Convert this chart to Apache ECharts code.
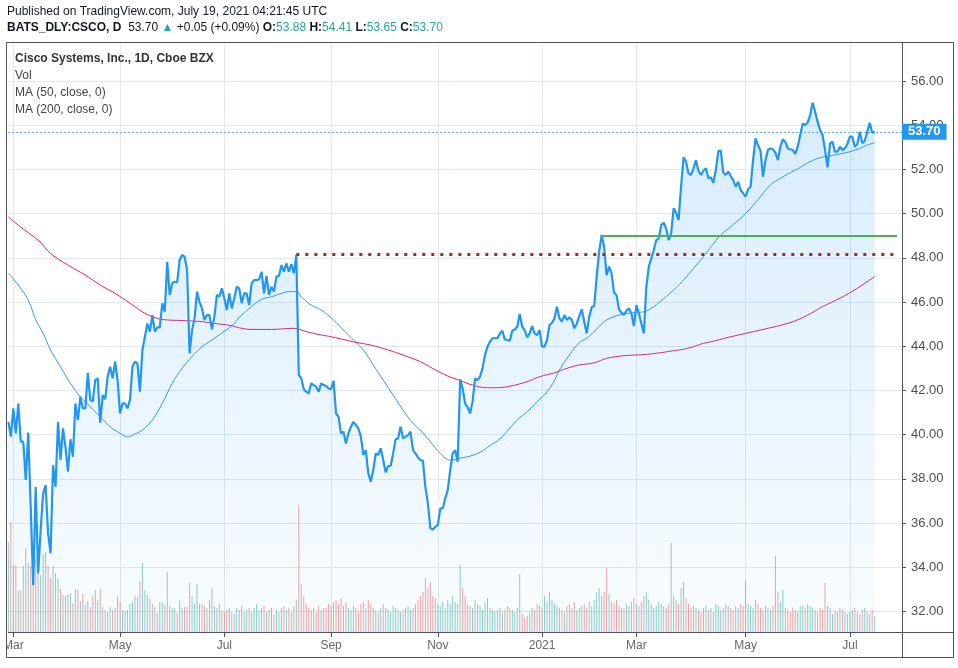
<!DOCTYPE html>
<html><head><meta charset="utf-8">
<script src="https://cdn.jsdelivr.net/npm/echarts@6/dist/echarts.min.js"></script>
<style>html,body{margin:0;padding:0;background:#fff}#c{width:958px;height:668px}</style>
</head><body><div id="c"></div>
<script>
// ---------- DATA ----------
const startDate = '2020-02-27';
const holidays = ['2020-04-10','2020-05-25','2020-07-03','2020-09-07','2020-11-26','2020-12-25',
  '2021-01-01','2021-01-18','2021-02-15','2021-04-02','2021-05-31','2021-07-05'];
const totalSlots = 361; // trading days incl. empty space on the right

const closes = [
 40.58,39.91,41.19,40.06,41.41,39.68,39.68,37.95,40.09,36.74,
 33.19,37.64,33.72,35.68,37.34,37.72,35.53,34.63,38.62,37.64,
 40.58,38.85,40.28,39.46,38.32,39.79,39.00,41.41,40.66,41.72,
 41.19,41.19,42.80,41.57,41.49,42.47,42.55,40.54,41.79,41.61,
 42.62,43.07,42.55,43.30,42.47,40.96,41.41,41.41,41.19,41.57,
 43.07,43.30,43.22,41.94,43.83,44.43,45.03,44.66,45.41,44.66,
 44.85,44.85,45.94,45.56,47.82,46.32,46.84,46.92,46.89,47.90,
 48.13,48.05,47.45,43.68,44.73,45.26,46.47,46.01,45.71,45.19,
 45.41,45.41,44.76,45.34,46.32,46.24,46.62,46.17,45.64,46.39,
 45.71,46.17,46.69,46.62,45.94,46.39,46.39,45.86,46.84,46.99,
 46.99,47.02,47.37,46.39,47.18,46.32,46.69,46.47,47.15,47.18,
 47.67,47.37,47.75,47.37,47.72,47.30,48.13,42.70,42.55,42.05,
 41.94,41.87,42.32,42.24,42.17,41.94,42.32,42.24,42.20,42.09,
 42.05,42.44,40.96,40.81,40.06,40.13,39.60,40.06,40.36,40.58,
 40.43,40.28,39.91,39.08,39.30,38.25,37.87,38.40,39.15,39.08,
 39.38,38.85,38.29,38.58,38.58,39.15,39.79,39.83,40.36,39.83,
 39.91,39.98,40.13,39.30,39.15,38.97,38.85,38.82,37.64,36.89,
 35.76,35.71,35.83,35.91,36.66,36.66,37.12,37.49,38.40,39.15,
 39.30,38.77,42.50,42.10,41.40,41.24,40.96,41.49,42.55,42.47,
 42.62,43.00,43.60,43.98,44.20,44.36,44.36,44.36,44.58,44.70,
 44.31,44.28,44.25,44.70,44.76,44.88,45.46,44.88,44.73,44.40,
 44.58,44.91,44.58,44.51,44.73,43.98,43.98,44.28,44.96,45.06,
 45.26,45.79,45.26,45.11,45.41,45.19,45.31,45.19,44.81,45.03,
 45.37,45.67,45.11,44.58,45.34,45.76,45.82,47.15,48.28,49.03,
 48.50,47.22,47.60,47.30,46.42,46.32,45.67,45.52,45.41,45.61,
 45.71,45.49,44.91,45.86,45.49,45.03,44.58,46.69,47.60,47.98,
 48.35,48.80,48.88,49.48,49.59,49.33,48.80,49.10,50.24,50.04,
 49.71,51.22,52.55,52.35,51.82,51.75,52.05,52.42,51.94,51.75,
 51.94,52.05,51.60,51.64,51.40,51.97,52.83,52.85,51.85,51.75,
 51.90,51.70,51.52,51.22,51.44,51.07,50.92,50.77,51.10,51.22,
 52.42,53.41,53.10,52.85,51.67,52.42,52.88,52.95,52.91,52.76,
 52.42,53.03,53.36,53.25,52.95,52.91,52.88,52.70,53.03,53.56,
 54.08,54.01,54.12,54.46,55.02,54.61,54.16,53.78,53.56,52.88,
 52.09,53.18,53.25,52.80,52.80,53.03,52.88,52.95,53.15,53.48,
 53.48,53.03,53.15,53.71,53.18,53.30,53.71,54.11,53.66,53.70
];

const volumes = [
 45,55,33.5,33.5,20.5,20.5,33,42,34.5,33,
 36,37,31,28.5,39,40,33,27,33,29.5,
 26.5,21.5,18.5,18,18.5,19.5,14.5,21.5,21,15.5,
 19,13.5,15.5,12.5,18,21,16,21.5,12.5,11,
 10,12.5,11,12,18,15,11,10.5,11,14,
 15,18,17.5,25.5,34.5,21,18.5,16.5,14,12.5,
 9.5,15,15,13.5,30,13,12,12,9.5,15.5,
 12,12.5,12.5,24.5,18,14.5,24,14,14,13,
 12,16,22,13,12,14,11,10,11,12,
 10,9,12,11,13,10,11,12,10,12,
 14,11,12,13,10,11,12,9,11,10,
 12,13,11,12,10,13,16,63.5,24,18,
 14,12,11,12,10,13,11,12,12,14,
 13,15,16,14,17,13,15,12,11,13,
 12,10,14,15,12,16,14,12,11,10,
 12,14,12,11,10,13,12,11,10,11,
 12,13,11,12,14,16,18,20,27,22,
 25,18,17,14,13,15,12,16,14,18,
 15,14,33.5,22,18,14,13,12,16,14,
 13,11,15,17,12,11,10,11,12,10,
 11,13,12,11,10,12,29,9,7,8,
 10,12,11,14,13,12,18,15,20,16,
 14,13,12,11,10,13,14,12,15,11,
 12,13,14,12,15,13,16,20,22,18,
 20,32,19,15,14,16,13,12,12,14,
 13,15,17,14,13,15,18,20,16,14,
 12,13,15,14,13,12,14,44.5,18,16,
 14,22,25,17,14,12,13,12,11,10,
 12,13,11,12,10,14,13,11,12,14,
 13,12,11,13,12,14,13,26,14,13,
 12,16,14,12,11,13,12,11,13,38,
 20,15,21,12,11,10,12,11,10,13,
 13,12,14,13,12,11,10,12,11,24.5,
 13,12,9,11,10,12,11,10,9,10,
 11,12,10,9,11,12,10,9,11,8
];

const ma50Idx = [0,4,8,11,14,17,21,25,29,33,37,41,45,48,51,54,58,62,66,70,74,78,82,86,90,94,98,102,106,110,113,116,118,122,126,131,135,139,143,147,151,155,159,163,166,170,174,178,182,186,190,194,198,202,205,209,213,217,220,222,226,230,233,236,240,244,248,252,256,260,264,268,272,276,280,283,287,291,295,299,303,307,311,315,319,323,327,331,335,339,343,346,349];
const ma50Val = [47.30,46.77,46.09,45.20,44.58,43.83,43.07,42.32,41.72,41.26,40.81,40.36,40.06,39.90,40.03,40.21,40.66,41.41,42.32,43.00,43.53,43.98,44.28,44.60,44.93,45.41,45.79,46.12,46.24,46.39,46.47,46.47,46.24,45.86,45.64,45.19,44.73,44.28,43.83,43.15,42.47,41.79,41.11,40.51,40.21,39.68,39.15,38.85,38.93,39.03,39.20,39.50,39.80,40.30,40.66,41.04,41.49,41.94,42.45,42.92,43.60,44.16,44.36,44.66,45.11,45.34,45.46,45.52,45.56,45.79,46.16,46.54,46.99,47.52,48.05,48.50,49.03,49.41,49.79,50.24,50.77,51.30,51.60,51.85,52.09,52.35,52.53,52.61,52.70,52.80,52.95,53.10,53.21];

const ma200Idx = [0,6,12,17,24,31,37,44,51,55,60,64,71,78,83,89,94,98,106,115,120,126,130,139,146,153,159,166,171,177,182,187,193,198,204,209,214,220,225,230,236,241,247,252,257,263,268,272,276,280,283,290,297,304,315,322,328,335,342,349];
const ma200Val = [49.85,49.30,48.80,48.20,47.67,47.22,46.77,46.32,45.79,45.49,45.26,45.19,45.16,45.11,45.03,44.95,44.81,44.76,44.76,44.81,44.66,44.51,44.43,44.20,44.05,43.83,43.60,43.30,42.99,42.65,42.45,42.24,42.12,42.13,42.24,42.40,42.62,42.80,43.00,43.15,43.25,43.45,43.56,43.60,43.63,43.71,43.80,43.86,43.98,44.13,44.20,44.40,44.58,44.76,45.07,45.41,45.79,46.17,46.62,47.15];

const yTicks = [32,34,36,38,40,42,44,46,48,50,52,54,56];
const tickDates = ['2020-03-02','2020-05-01','2020-07-01','2020-09-01','2020-11-02','2021-01-04','2021-03-01','2021-05-03','2021-07-01'];
const tickLabels = ['Mar','May','Jul','Sep','Nov','2021','Mar','May','Jul'];

const lastPrice = 53.70;
const resistanceLevel = 48.16, resistanceStart = '2020-08-12';
const breakoutLevel = 49.0, breakoutStart = '2021-02-08';
const drawingsEnd = '2021-07-29';

// ---------- BUILD ----------
function fmt(d){return d.toISOString().slice(0,10);}
const dates = [];
(function(){
  const d = new Date(startDate + 'T00:00:00Z');
  while (dates.length < totalSlots) {
    const wd = d.getUTCDay(); const s = fmt(d);
    if (wd !== 0 && wd !== 6 && holidays.indexOf(s) < 0) dates.push(s);
    d.setUTCDate(d.getUTCDate() + 1);
  }
})();
const tickMap = {}; tickDates.forEach((t,k)=>{ tickMap[t] = tickLabels[k]; });
const isTick = (idx, val) => tickMap.hasOwnProperty(val);

const volData = volumes.map((v,i)=>({
  value: v,
  itemStyle: {color: (i===0 || closes[i] >= closes[i-1]) ? 'rgba(38,166,154,0.55)' : 'rgba(239,83,80,0.55)'}
}));

const SANS = '"Liberation Sans",Arial,sans-serif';
const FRAME = '#50535e';

const chart = echarts.init(document.getElementById('c'), null, {renderer:'canvas'});
chart.setOption({
  animation: false,
  backgroundColor: '#fff',
  grid: {left: 7, right: 56, top: 43, bottom: 36, containLabel: false},
  xAxis: {
    type: 'category', data: dates, boundaryGap: false,
    axisLine: {show: true, lineStyle: {color: FRAME}},
    axisTick: {show: true, interval: isTick, length: 5, lineStyle: {color: FRAME}},
    axisLabel: {interval: isTick, formatter: v => tickMap[v] || '', color: '#666', fontSize: 12, fontFamily: SANS, margin: 8},
    splitLine: {show: true, interval: isTick, lineStyle: {color: '#e3e9ef', width: 1}}
  },
  yAxis: [{
    type: 'value', position: 'right', min: 31.07, max: 57.72, scale: true,
    axisLine: {show: true, lineStyle: {color: FRAME}},
    axisTick: {show: true, customValues: yTicks, length: 4, lineStyle: {color: FRAME}},
    axisLabel: {customValues: yTicks, formatter: v => v.toFixed(2), color: '#4e4e4e', fontSize: 13, fontFamily: SANS, margin: 9},
    splitLine: {show: true, lineStyle: {color: '#e3e9ef', width: 1}}
  }, {
    type: 'value', min: 0, max: 294.5, show: false, splitLine: {show: false}
  }],
  series: [
    {
      name: 'Vol', type: 'bar', yAxisIndex: 1, data: volData, barWidth: 1, z: 1, silent: true
    },
    {
      name: 'Close', type: 'line', data: closes, symbol: 'none', z: 4,
      lineStyle: {color: '#2196f3', width: 2.2},
      areaStyle: {color: new echarts.graphic.LinearGradient(0,0,0,1,[
        {offset: 0, color: 'rgba(33,150,243,0.26)'},
        {offset: 1, color: 'rgba(33,150,243,0.04)'}])},
      markLine: {
        silent: true, symbol: ['none','none'], animation: false,
        data: [
          {yAxis: lastPrice,
           lineStyle: {color: '#2196f3', type: [1.5, 2.5], width: 1},
           label: {show: true, position: 'end', formatter: lastPrice.toFixed(2), distance: 0,
             backgroundColor: '#2196f3', color: '#fff', fontWeight: 'bold', fontSize: 13, fontFamily: SANS,
             padding: [2, 6, 1, 6]}},
          [{coord: [resistanceStart, resistanceLevel],
            lineStyle: {color: '#b22222', type: [3, 6], width: 3, cap: 'butt'}, label: {show: false}},
           {coord: [drawingsEnd, resistanceLevel]}],
          [{coord: [breakoutStart, breakoutLevel],
            lineStyle: {color: '#4caf50', type: 'solid', width: 2}, label: {show: false}},
           {coord: [drawingsEnd, breakoutLevel]}]
        ]
      }
    },
    {
      name: 'MA50', type: 'line', data: ma50Idx.map((i,k)=>[i, ma50Val[k]]), symbol: 'none', smooth: 0.4, z: 3,
      lineStyle: {color: '#2d9bf0', width: 1}
    },
    {
      name: 'MA200', type: 'line', data: ma200Idx.map((i,k)=>[i, ma200Val[k]]), symbol: 'none', smooth: 0.4, z: 3,
      lineStyle: {color: '#e91e63', width: 1}
    }
  ],
  graphic: [
    {type: 'text', left: 7, top: 6, z: 100, style: {text: 'Published on TradingView.com, July 19, 2021 04:21:45 UTC', fontSize: 12, fontFamily: SANS, fill: '#131722'}},
    {type: 'text', left: 7, top: 22, z: 100, style: {
      text: '{b|BATS_DLY:CSCO, D}  {n|53.70} {g|▲} {n|+0.05 (+0.09%)} {b|O:}{g|53.88} {b|H:}{g|54.41} {b|L:}{g|53.65} {b|C:}{g|53.70}',
      fontSize: 12, fontFamily: SANS, fill: '#131722',
      rich: {
        b: {fontWeight: 'bold', fontSize: 12, fontFamily: SANS, fill: '#131722'},
        n: {fontSize: 12, fontFamily: SANS, fill: '#131722'},
        g: {fontSize: 12, fontFamily: SANS, fill: '#26a69a'}
      }}},
    {type: 'text', left: 15, top: 53, z: 100, style: {text: 'Cisco Systems, Inc., 1D, Cboe BZX', fontSize: 12, fontWeight: 'bold', fontFamily: '"Liberation Sans Narrow",' + SANS, fill: '#333'}},
    {type: 'text', left: 15, top: 70, z: 100, style: {text: 'Vol', fontSize: 12, fontFamily: SANS, fill: '#444'}},
    {type: 'text', left: 15, top: 87, z: 100, style: {text: 'MA (50, close, 0)', fontSize: 12, fontFamily: SANS, fill: '#444'}},
    {type: 'text', left: 15, top: 104, z: 100, style: {text: 'MA (200, close, 0)', fontSize: 12, fontFamily: SANS, fill: '#444'}},
    // frame
    {type: 'rect', z: 99, shape: {x: 0, y: 633, width: 6, height: 24}, style: {fill: '#fff'}},
    {type: 'line', z: 100, shape: {x1: 6.5, y1: 42.5, x2: 6.5, y2: 657.5}, style: {stroke: FRAME, lineWidth: 1}},
    {type: 'line', z: 100, shape: {x1: 6.5, y1: 42.5, x2: 953.5, y2: 42.5}, style: {stroke: FRAME, lineWidth: 1}},
    {type: 'line', z: 100, shape: {x1: 953.5, y1: 42.5, x2: 953.5, y2: 657.5}, style: {stroke: FRAME, lineWidth: 1}},
    {type: 'line', z: 100, shape: {x1: 6.5, y1: 657.5, x2: 953.5, y2: 657.5}, style: {stroke: FRAME, lineWidth: 1}},
    {type: 'line', z: 100, shape: {x1: 902.5, y1: 632, x2: 902.5, y2: 657.5}, style: {stroke: FRAME, lineWidth: 1}},
    {type: 'line', z: 100, shape: {x1: 902, y1: 632.5, x2: 953.5, y2: 632.5}, style: {stroke: FRAME, lineWidth: 1}}
  ]
});
</script></body></html>
